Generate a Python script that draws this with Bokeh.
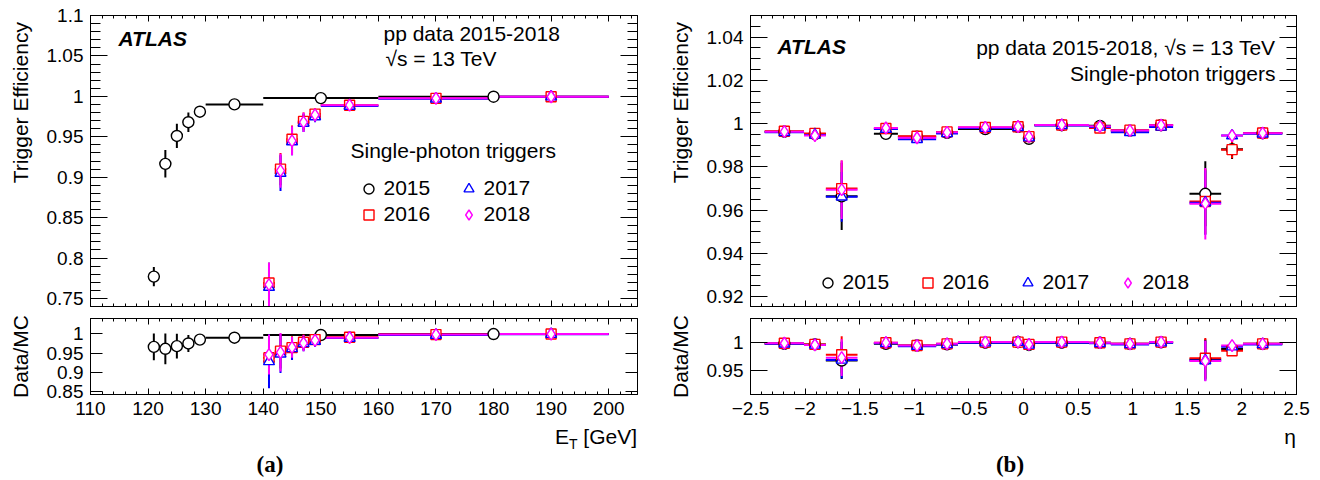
import numpy as np
from bokeh.plotting import figure
from bokeh.layouts import row, column
from bokeh.models import (ColumnDataSource, FixedTicker, LinearAxis, Label, Legend,
                          LegendItem, Range1d, CustomJSTickFormatter, Div)
from bokeh.embed import file_html
from bokeh.resources import INLINE

FONT = "Liberation Sans"

# ---------------- panel (a): efficiency vs E_T ----------------
et_x_2015 = [121, 123, 125, 127, 129, 135, 150, 180]
et_lo_2015 = [120, 122, 124, 126, 128, 130, 140, 160]
et_hi_2015 = [122, 124, 126, 128, 130, 140, 160, 200]
eff_a_2015 = [0.777, 0.9165, 0.951, 0.968, 0.981, 0.990, 0.9978, 0.9995]
err_a_2015 = [0.012, 0.017, 0.015, 0.012, 0.006, 0.002, 0.001, 0.0005]
rat_a_2015 = [0.966, 0.961, 0.968, 0.975, 0.985, 0.990, 0.997, 0.9995]
rerr_a_2015 = [0.035, 0.040, 0.032, 0.022, 0.010, 0.003, 0.002, 0.001]

et_x = [141, 143, 145, 147, 149, 155, 170, 190]
et_lo = [140, 142, 144, 146, 148, 150, 160, 180]
et_hi = [142, 144, 146, 148, 150, 160, 180, 200]
eff_a_2016 = [0.769, 0.910, 0.947, 0.969, 0.978, 0.989, 0.9975, 0.9995]
eff_a_2017 = [0.764, 0.905, 0.944, 0.967, 0.975, 0.988, 0.9970, 0.9995]
eff_a_2018 = [0.767, 0.908, 0.945, 0.968, 0.977, 0.989, 0.9975, 0.9995]
err_a_2016 = [0.025, 0.020, 0.017, 0.011, 0.007, 0.002, 0.001, 0.0005]
err_a_2017 = [0.030, 0.022, 0.017, 0.011, 0.007, 0.002, 0.001, 0.0005]
err_a_2018 = [0.027, 0.021, 0.018, 0.012, 0.008, 0.002, 0.001, 0.0005]
rat_a_2016 = [0.938, 0.955, 0.964, 0.978, 0.985, 0.991, 0.998, 0.9995]
rat_a_2017 = [0.928, 0.948, 0.962, 0.975, 0.981, 0.989, 0.997, 0.999]
rat_a_2018 = [0.946, 0.952, 0.965, 0.976, 0.983, 0.990, 0.998, 0.9995]
rerr_a_2016 = [0.050, 0.045, 0.030, 0.020, 0.015, 0.004, 0.002, 0.001]
rerr_a_2017 = [0.070, 0.050, 0.030, 0.020, 0.015, 0.004, 0.002, 0.001]
rerr_a_2018 = [0.052, 0.050, 0.027, 0.021, 0.014, 0.004, 0.002, 0.001]

# ---------------- panel (b): efficiency vs eta ----------------
eta_lo = [-2.37, -2.01, -1.81, -1.37, -1.15, -0.8, -0.6, -0.1, 0.0, 0.1, 0.6, 0.8, 1.15, 1.52, 1.81, 2.01]
eta_hi = [-2.01, -1.81, -1.52, -1.15, -0.8, -0.6, -0.1, 0.0, 0.1, 0.6, 0.8, 1.15, 1.37, 1.81, 2.01, 2.37]
eta_x = [-2.19, -1.91, -1.665, -1.26, -0.975, -0.7, -0.35, -0.05, 0.05, 0.35, 0.7, 0.975, 1.26, 1.665, 1.91, 2.19]
eff_b_2015 = [0.9963, 0.9952, 0.9664, 0.9953, 0.9940, 0.9958, 0.9975, 0.9985, 0.9930, 0.9993, 0.9990, 0.9968, 0.9993, 0.9676, 0.9882, 0.9956]
eff_b_2016 = [0.9965, 0.9955, 0.9700, 0.9978, 0.9942, 0.9962, 0.9982, 0.9986, 0.9940, 0.9994, 0.9980, 0.9970, 0.9993, 0.9640, 0.9880, 0.9957]
eff_b_2017 = [0.9960, 0.9948, 0.9662, 0.9975, 0.9928, 0.9955, 0.9980, 0.9983, 0.9935, 0.9992, 0.9985, 0.9960, 0.9985, 0.9635, 0.9945, 0.9953]
eff_b_2018 = [0.9963, 0.9945, 0.9695, 0.9980, 0.9935, 0.9960, 0.9983, 0.9987, 0.9940, 0.9994, 0.9988, 0.9968, 0.9993, 0.9630, 0.9945, 0.9956]
err_b_2015 = [0.0008, 0.0010, 0.0155, 0.0010, 0.0010, 0.0008, 0.0006, 0.0008, 0.0010, 0.0006, 0.0008, 0.0008, 0.0008, 0.0150, 0.0045, 0.0008]
err_b_2016 = [0.0008, 0.0010, 0.0130, 0.0010, 0.0010, 0.0008, 0.0006, 0.0008, 0.0010, 0.0006, 0.0008, 0.0008, 0.0008, 0.0150, 0.0040, 0.0008]
err_b_2017 = [0.0008, 0.0010, 0.0115, 0.0010, 0.0010, 0.0008, 0.0006, 0.0008, 0.0010, 0.0006, 0.0008, 0.0008, 0.0008, 0.0150, 0.0012, 0.0008]
err_b_2018 = [0.0008, 0.0015, 0.0135, 0.0010, 0.0012, 0.0008, 0.0006, 0.0008, 0.0010, 0.0006, 0.0008, 0.0008, 0.0008, 0.0165, 0.0012, 0.0008]
rat_b_2015 = [0.997, 0.996, 0.968, 0.997, 0.994, 0.996, 0.999, 1.000, 0.995, 0.999, 0.999, 0.997, 0.9995, 0.970, 0.988, 0.997]
rat_b_2016 = [0.998, 0.996, 0.978, 0.999, 0.994, 0.997, 1.000, 1.000, 0.996, 1.000, 0.999, 0.997, 1.000, 0.972, 0.985, 0.997]
rat_b_2017 = [0.997, 0.995, 0.969, 0.998, 0.993, 0.996, 0.999, 1.000, 0.995, 0.999, 0.998, 0.996, 0.999, 0.968, 0.992, 0.996]
rat_b_2018 = [0.998, 0.995, 0.973, 0.999, 0.994, 0.997, 1.000, 1.000, 0.996, 1.000, 0.999, 0.997, 1.000, 0.967, 0.994, 0.997]
rerr_b = [0.002, 0.002, 0.032, 0.002, 0.002, 0.002, 0.002, 0.002, 0.002, 0.002, 0.002, 0.002, 0.002, 0.035, 0.006, 0.002]

# ---------------- ticks ----------------
a_x_ticks = [110, 120, 130, 140, 150, 160, 170, 180, 190, 200]
a_y_ticks = [0.75, 0.8, 0.85, 0.9, 0.95, 1.0, 1.05, 1.1]
a_r_ticks = [0.85, 0.9, 0.95, 1.0]
b_x_ticks = [-2.5, -2.0, -1.5, -1.0, -0.5, 0.0, 0.5, 1.0, 1.5, 2.0, 2.5]
b_y_ticks = [0.92, 0.94, 0.96, 0.98, 1.0, 1.02, 1.04]
b_r_ticks = [0.95, 1.0]

years = ["2015", "2016", "2017", "2018"]
colors = {"2015": "#000000", "2016": "#ff0000", "2017": "#0000ff", "2018": "#ff00ff"}
mk = {"2015": ("circle", 11), "2016": ("square", 10), "2017": ("triangle", 11), "2018": ("diamond", 12)}

fmt_code = r"""
var s = tick.toFixed(3).replace(/\.?0+$/, '');
if (s === '-0') { s = '0'; }
return s.replace('-', '\u2212');
"""

NB = "\u00a0"


def style_axis(ax, ticks, minor, show, tin):
    ax.ticker = FixedTicker(ticks=list(ticks), minor_ticks=[float(v) for v in minor])
    ax.formatter = CustomJSTickFormatter(code=fmt_code if show else "return '';")
    ax.major_tick_in = tin[0]
    ax.major_tick_out = 0
    ax.minor_tick_in = tin[1]
    ax.minor_tick_out = 0
    ax.axis_line_color = "black"
    ax.major_tick_line_color = "black"
    ax.minor_tick_line_color = "black"
    ax.major_label_text_font = FONT
    ax.major_label_text_font_size = "19px" if show else "0px"
    ax.major_label_text_color = "black"
    ax.major_label_standoff = 7 if show else 0


def set_ylabel(ax, text, lead):
    # leading no-break spaces push the (bottom-to-top) title towards the top, as in ROOT
    ax.axis_label = NB * lead + text
    ax.axis_label_text_font = FONT
    ax.axis_label_text_font_size = "21px"
    ax.axis_label_text_font_style = "normal"
    ax.axis_label_text_color = "black"
    ax.axis_label_standoff = 12


def make_fig(w, h, xr, yr, bl, br, bt, bb, xt, xm, yt, ym, show_x, xin, yin):
    p = figure(width=w, height=h, x_range=Range1d(*xr), y_range=Range1d(*yr),
               output_backend="svg", toolbar_location=None,
               min_border_left=bl, min_border_right=br, min_border_top=bt, min_border_bottom=bb)
    p.grid.visible = False
    p.outline_line_color = "black"
    p.outline_line_alpha = 1.0
    p.background_fill_color = "white"
    p.border_fill_color = "white"
    style_axis(p.xaxis[0], xt, xm, show_x, xin)
    style_axis(p.yaxis[0], yt, ym, True, yin)
    top = LinearAxis()
    style_axis(top, xt, xm, False, xin)
    p.add_layout(top, "above")
    right = LinearAxis()
    style_axis(right, yt, ym, False, yin)
    p.add_layout(right, "right")
    return p


def add_text(p, x, y, text, size="21px", style="normal", align="left", font=FONT):
    p.add_layout(Label(x=x, y=y, x_units="screen", y_units="screen", text=text,
                       text_font=font, text_font_size=size, text_font_style=style,
                       text_align=align, text_baseline="alphabetic", text_color="black"))


def draw_bars(p, x, lo, hi, y, err, color):
    src = ColumnDataSource(dict(x=x, lo=lo, hi=hi, y=y,
                                ylo=[a - b for a, b in zip(y, err)],
                                yhi=[a + b for a, b in zip(y, err)]))
    p.segment(x0="lo", y0="y", x1="hi", y1="y", source=src, line_color=color, line_width=2)
    p.segment(x0="x", y0="ylo", x1="x", y1="yhi", source=src, line_color=color, line_width=2)
    return src


def draw_marks(p, src, year):
    m, s = mk[year]
    return p.scatter("x", "y", source=src, marker=m, size=s, line_color=colors[year],
                     fill_color="white", line_width=1.4)


# ---------------- figures ----------------
a_x_minor = np.arange(110, 206, 2)
a_y_minor = np.round(np.arange(0.74, 1.1001, 0.01), 3)
b_x_minor = np.round(np.arange(-2.5, 2.5001, 0.1), 2)
b_y_minor = np.round(np.arange(0.915, 1.0501, 0.005), 4)

LW, RW = 660, 658
TOPH, BOTH, CAPH = 312, 112, 54
lt = make_fig(LW, TOPH, (110, 205), (0.74, 1.10), 90, 23, 15, 6,
              a_x_ticks, a_x_minor, a_y_ticks, a_y_minor, False, (6, 3), (17, 10))
lb = make_fig(LW, BOTH, (110, 205), (0.842, 1.04), 90, 23, 6, 30,
              a_x_ticks, a_x_minor, a_r_ticks, [], True, (6, 3), (12, 6))
rt = make_fig(RW, TOPH, (-2.5, 2.5), (0.9155, 1.05), 90, 22, 15, 6,
              b_x_ticks, b_x_minor, b_y_ticks, b_y_minor, False, (6, 3), (17, 10))
rb = make_fig(RW, BOTH, (-2.5, 2.5), (0.909, 1.041), 90, 22, 6, 30,
              b_x_ticks, b_x_minor, b_r_ticks, [], True, (6, 3), (17, 9))

set_ylabel(lt.yaxis[0], "Trigger Efficiency", 20)
set_ylabel(rt.yaxis[0], "Trigger Efficiency", 20)
set_ylabel(lb.yaxis[0], "Data/MC", 0)
set_ylabel(rb.yaxis[0], "Data/MC", 0)

a_top = {"2015": (et_x_2015, et_lo_2015, et_hi_2015, eff_a_2015, err_a_2015),
         "2016": (et_x, et_lo, et_hi, eff_a_2016, err_a_2016),
         "2017": (et_x, et_lo, et_hi, eff_a_2017, err_a_2017),
         "2018": (et_x, et_lo, et_hi, eff_a_2018, err_a_2018)}
a_bot = {"2015": (et_x_2015, et_lo_2015, et_hi_2015, rat_a_2015, rerr_a_2015),
         "2016": (et_x, et_lo, et_hi, rat_a_2016, rerr_a_2016),
         "2017": (et_x, et_lo, et_hi, rat_a_2017, rerr_a_2017),
         "2018": (et_x, et_lo, et_hi, rat_a_2018, rerr_a_2018)}
b_top = {"2015": (eff_b_2015, err_b_2015), "2016": (eff_b_2016, err_b_2016),
         "2017": (eff_b_2017, err_b_2017), "2018": (eff_b_2018, err_b_2018)}
b_bot = {"2015": (rat_b_2015, rerr_b), "2016": (rat_b_2016, rerr_b),
         "2017": (rat_b_2017, rerr_b), "2018": (rat_b_2018, rerr_b)}

lt_r, rt_r, srcs = {}, {}, {}
for y in years:
    srcs[("lt", y)] = draw_bars(lt, *a_top[y], colors[y])
    srcs[("lb", y)] = draw_bars(lb, *a_bot[y], colors[y])
    srcs[("rt", y)] = draw_bars(rt, eta_x, eta_lo, eta_hi, b_top[y][0], b_top[y][1], colors[y])
    srcs[("rb", y)] = draw_bars(rb, eta_x, eta_lo, eta_hi, b_bot[y][0], b_bot[y][1], colors[y])
for y in years:
    lt_r[y] = draw_marks(lt, srcs[("lt", y)], y)
    draw_marks(lb, srcs[("lb", y)], y)
    rt_r[y] = draw_marks(rt, srcs[("rt", y)], y)
    draw_marks(rb, srcs[("rb", y)], y)


def legend(items, loc, orientation="vertical", spacing=1):
    return Legend(items=items, location=loc, orientation=orientation, padding=0, margin=0,
                  spacing=spacing, glyph_width=25, glyph_height=25, label_standoff=3,
                  label_width=48, label_height=25, border_line_alpha=0,
                  background_fill_alpha=0, label_text_font=FONT,
                  label_text_font_size="21px", label_text_color="black")


lt.add_layout(legend([LegendItem(label="2015", renderers=[lt_r["2015"]]),
                      LegendItem(label="2016", renderers=[lt_r["2016"]])], (265.5, 79.5)))
lt.add_layout(legend([LegendItem(label="2017", renderers=[lt_r["2017"]]),
                      LegendItem(label="2018", renderers=[lt_r["2018"]])], (365.5, 79.5)))
rt.add_layout(legend([LegendItem(label=y, renderers=[rt_r[y]]) for y in years],
                     (64.5, 11.5), orientation="horizontal", spacing=24))

add_text(lt, 28, 268, "ATLAS", style="bold italic")
add_text(lt, 293, 273, "pp data 2015-2018")
add_text(lt, 295, 248, "\u221as = 13 TeV")
add_text(lt, 260, 156, "Single-photon triggers")

add_text(rt, 27, 260, "ATLAS", style="bold italic")
add_text(rt, 525, 259, "pp data 2015-2018, \u221as = 13 TeV", align="right")
add_text(rt, 525, 233, "Single-photon triggers", align="right")


def caption(width, right_gap, xlabel_html, tag_center, tag):
    html = (
        f'<div style="position:relative;width:{width}px;height:{CAPH}px;color:black;">'
        f'<div style="position:absolute;right:{right_gap}px;top:1px;font-family:\'Liberation Sans\',sans-serif;'
        f'font-size:21px;line-height:24px;white-space:nowrap;">{xlabel_html}</div>'
        f'<div style="position:absolute;left:{tag_center - 50}px;width:100px;top:28px;text-align:center;'
        f'font-family:\'Liberation Serif\',serif;font-weight:bold;font-size:23px;line-height:26px;">{tag}</div>'
        '</div>'
    )
    return Div(text=html, width=width, height=CAPH, margin=0)


cap_a = caption(LW, 23, 'E<sub style="font-size:14px;">T</sub> [GeV]', 270, "(a)")
cap_b = caption(RW, 22, '\u03b7', 350, "(b)")

layout = row(column(lt, lb, cap_a), column(rt, rb, cap_b))
open("out.html", "w").write(file_html(layout, INLINE))
